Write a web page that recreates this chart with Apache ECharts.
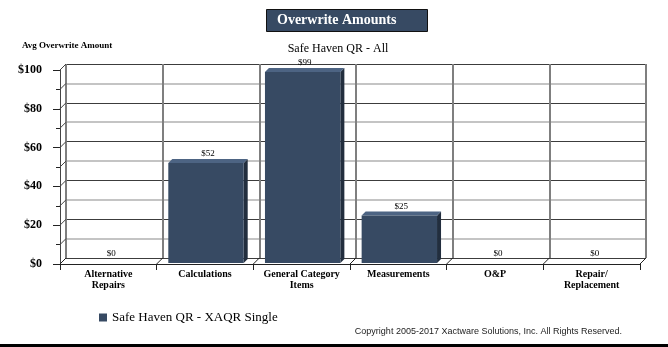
<!DOCTYPE html>
<html>
<head>
<meta charset="utf-8">
<script src="https://cdn.jsdelivr.net/npm/echarts@6/dist/echarts.min.js"></script>
<style>
html,body{margin:0;padding:0;background:#fff;}
#c{width:668px;height:347px;}
</style>
</head>
<body>
<div id="c"></div>
<script>
const categories = ['Alternative\nRepairs', 'Calculations', 'General Category\nItems', 'Measurements', 'O&P', 'Repair/\nReplacement'];
const values = [0, 52, 99, 25, 0, 0];
const seriesName = 'Safe Haven QR - XAQR Single';
const chartTitle = 'Overwrite Amounts';
const subTitle = 'Safe Haven QR - All';
const yAxisTitle = 'Avg Overwrite Amount';
const copyright = 'Copyright 2005-2017 Xactware Solutions, Inc. All Rights Reserved.';
const yMin = 0, yMax = 100, yInterval = 20;
const wallTicks = [0, 10, 20, 30, 40, 50, 60, 70, 80, 90, 100];

const SERIF = '"Liberation Serif", "Times New Roman", serif';
const SANS = '"Liberation Sans", Arial, sans-serif';
const FRONT = '#374a63', TOPC = '#4d6483', SIDE = '#222e3e';
const WALL = 6, DEPTH = 4;

const chart = echarts.init(document.getElementById('c'), null, {renderer: 'canvas'});

const barData = values.map((v, i) => [i, v]);
const catIdx = categories.map((c, i) => [i, 0]);
const wallData = wallTicks.map(t => [0, t]);

chart.setOption({
  animation: false,
  backgroundColor: '#fff',
  graphic: [
    {type: 'rect', shape: {x: 266.5, y: 9.5, width: 161, height: 22}, style: {fill: FRONT, stroke: '#111', lineWidth: 1}, z: 10},
    {type: 'text', x: 277, y: 20.5, style: {text: chartTitle, fill: '#fff', font: 'bold 14px ' + SERIF, textVerticalAlign: 'middle'}, z: 11},
    {type: 'text', x: 338, y: 49, style: {text: subTitle, fill: '#000', font: '12px ' + SERIF, textAlign: 'center', textVerticalAlign: 'middle'}, z: 11},
    {type: 'text', x: 22, y: 46, style: {text: yAxisTitle, fill: '#000', font: 'bold 9px ' + SERIF, textVerticalAlign: 'middle'}, z: 11},
    {type: 'text', x: 622, y: 332, style: {text: copyright, fill: '#222', font: '9px ' + SANS, textAlign: 'right', textVerticalAlign: 'middle'}, z: 11},
    {type: 'rect', shape: {x: 0, y: 344, width: 668, height: 3}, style: {fill: '#000'}, z: 11}
  ],
  legend: {
    left: 94, top: 306, icon: 'rect', itemWidth: 8, itemHeight: 8, itemGap: 5,
    data: [seriesName],
    textStyle: {fontFamily: SERIF, fontSize: 13, color: '#000'}
  },
  grid: [
    {left: 66, width: 580, top: 64, height: 194},
    {left: 60, width: 580, top: 70, height: 194}
  ],
  xAxis: [
    {
      type: 'category', gridIndex: 0, data: categories, boundaryGap: true,
      axisLine: {show: false}, axisTick: {show: false}, axisLabel: {show: false},
      splitLine: {show: true, interval: 0, lineStyle: {color: '#7f7f7f', width: 2}}
    },
    {
      type: 'category', gridIndex: 1, data: categories, boundaryGap: true,
      axisLine: {show: true, lineStyle: {color: '#222', width: 1}},
      axisTick: {show: true, interval: 0, length: 6, lineStyle: {color: '#222'}},
      axisLabel: {interval: 0, margin: 5, fontFamily: SERIF, fontWeight: 'bold', fontSize: 10, color: '#000', lineHeight: 11},
      splitLine: {show: false}
    }
  ],
  yAxis: [
    {
      type: 'value', gridIndex: 0, min: yMin, max: yMax, interval: yInterval,
      axisLine: {show: false}, axisTick: {show: false}, axisLabel: {show: false},
      splitLine: {show: true, lineStyle: {color: '#3c3c3c', width: 1}},
      minorTick: {show: false, splitNumber: 2},
      minorSplitLine: {show: true, lineStyle: {color: '#c4c4c4', width: 2}}
    },
    {
      type: 'value', gridIndex: 1, min: yMin, max: yMax, interval: yInterval,
      axisLine: {show: true, lineStyle: {color: '#444', width: 1}},
      axisTick: {show: true, length: 7, lineStyle: {color: '#222'}},
      minorTick: {show: true, splitNumber: 2, length: 4, lineStyle: {color: '#222'}},
      axisLabel: {margin: 18, fontFamily: SERIF, fontWeight: 'bold', fontSize: 12, color: '#000', formatter: v => '$' + v},
      splitLine: {show: false}
    }
  ],
  series: [
    {
      type: 'custom', name: 'wall', xAxisIndex: 1, yAxisIndex: 1, data: wallData, z: 3, silent: true,
      renderItem: function (params, api) {
        const p = api.coord([0, api.value(1)]);
        const x = p[0] - api.size([1, 0])[0] / 2;
        return {type: 'line', shape: {x1: x, y1: p[1], x2: x + WALL, y2: p[1] - WALL}, style: {stroke: '#444', lineWidth: 1}};
      }
    },
    {
      type: 'custom', name: 'floor', xAxisIndex: 1, yAxisIndex: 1, data: catIdx, z: 3, silent: true,
      renderItem: function (params, api) {
        const i = api.value(0);
        const p = api.coord([i, 0]);
        const s = api.size([1, 0])[0];
        const kids = [];
        const xs = [p[0] - s / 2];
        if (i === categories.length - 1) xs.push(p[0] + s / 2);
        xs.forEach(x => kids.push({type: 'line', shape: {x1: x, y1: p[1], x2: x + WALL, y2: p[1] - WALL}, style: {stroke: '#222', lineWidth: 1}}));
        return {type: 'group', children: kids};
      }
    },
    {
      type: 'custom', name: seriesName, xAxisIndex: 1, yAxisIndex: 1, data: barData, z: 5,
      itemStyle: {color: FRONT},
      renderItem: function (params, api) {
        const i = api.value(0), v = api.value(1);
        const base = api.coord([i, 0]);
        const top = api.coord([i, v]);
        const w = api.size([1, 0])[0] * 0.78;
        const x0 = top[0] - w / 2 + 1, x1 = x0 + w;
        const yT = top[1], yB = base[1] - 1;
        const kids = [];
        if (v > 0) {
          kids.push({type: 'polygon', shape: {points: [[x1, yT], [x1 + DEPTH, yT - DEPTH], [x1 + DEPTH, yB - DEPTH], [x1, yB]]}, style: {fill: SIDE}});
          kids.push({type: 'polygon', shape: {points: [[x0, yT], [x0 + DEPTH, yT - DEPTH], [x1 + DEPTH, yT - DEPTH], [x1, yT]]}, style: {fill: TOPC}});
          kids.push({type: 'rect', shape: {x: x0, y: yT, width: w, height: yB - yT}, style: {fill: FRONT}});
        }
        kids.push({type: 'text', x: (x0 + x1) / 2 + DEPTH / 2, y: Math.min(yT, yB) - DEPTH - 0.5,
          style: {text: '$' + v, fill: '#000', font: '9px ' + SERIF, textAlign: 'center', textVerticalAlign: 'bottom'}});
        return {type: 'group', children: kids};
      }
    }
  ]
});
</script>
</body>
</html>
